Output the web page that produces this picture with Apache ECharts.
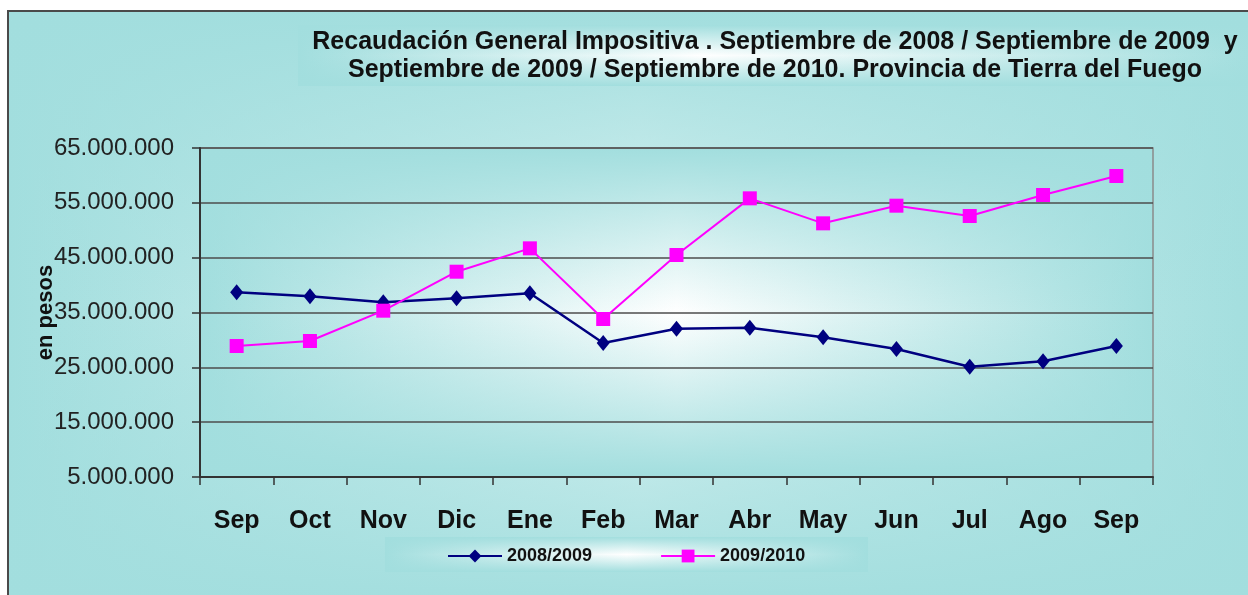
<!DOCTYPE html>
<html>
<head>
<meta charset="utf-8">
<script src="https://cdn.jsdelivr.net/npm/echarts@6/dist/echarts.min.js"></script>
<style>
  html, body { margin: 0; padding: 0; background: #fff; }
  #chart { width: 1248px; height: 595px; }
</style>
</head>
<body>
<div id="chart"></div>
<script>
// meses (sep a sep)
var meses = ['Sep', 'Oct', 'Nov', 'Dic', 'Ene', 'Feb', 'Mar', 'Abr', 'May', 'Jun', 'Jul', 'Ago', 'Sep']
var serie0809 = [38680000, 37950000, 36860000, 37590000, 38500000, 29440000, 32050000, 32230000, 30470000, 28340000, 25120000, 26100000, 28890000]
var serie0910 = [28890000, 29800000, 35330000, 42440000, 46700000, 33810000, 45490000, 55820000, 51260000, 54480000, 52600000, 56430000, 59890000]
var nombres = ['2008/2009', '2009/2010']

var cian = '#a2dede'
var fuente = '"Liberation Sans", Arial, sans-serif'

function puntos (v) {
  return String(v).replace(/\B(?=(\d{3})+(?!\d))/g, '.')
}

// gradiente horizontal cian-blanco-cian
function gradH (centro, x) {
  return {
    type: 'linear', x: 0, y: 0, x2: 1, y2: 0,
    colorStops: [
      { offset: 0, color: cian },
      { offset: x, color: centro },
      { offset: 1, color: cian }
    ]
  }
}
// capa vertical para cerrar arriba y abajo
function gradV (y) {
  return {
    type: 'linear', x: 0, y: 0, x2: 0, y2: 1,
    colorStops: [
      { offset: 0, color: 'rgba(162,222,222,1)' },
      { offset: y, color: 'rgba(162,222,222,0)' },
      { offset: 1, color: 'rgba(162,222,222,1)' }
    ]
  }
}

function caja (x, y, w, h, centro, cx, cy, z) {
  return [
    { type: 'rect', z: z, silent: true, shape: { x: x, y: y, width: w, height: h }, style: { fill: gradH(centro, cx) } },
    { type: 'rect', z: z + 1, silent: true, shape: { x: x, y: y, width: w, height: h }, style: { fill: gradV(cy) } }
  ]
}

var fondo = [].concat(
  // marco general
  caja(8, 11, 1260, 600, '#dff4f4', 0.5, 0.5, -20),
  [{ type: 'rect', z: -17, silent: true, shape: { x: 8, y: 11, width: 1260, height: 600 }, style: { fill: 'none', stroke: '#4a4a4a', lineWidth: 2 } }],
  // caja del titulo
  caja(298, 25, 960, 61, '#ffffff', 0.42, 0.5, -15),
  // area de grafico
  caja(200, 148, 953, 329, '#ffffff', 0.5, 0.5, -12),
  // caja de la leyenda
  caja(385, 537, 483, 35, '#ffffff', 0.5, 0.5, -15)
)

var chart = echarts.init(document.getElementById('chart'))
var option = {
  animation: false,
  title: {
    text: 'Recaudación General Impositiva . Septiembre de 2008 / Septiembre de 2009  y\nSeptiembre de 2009 / Septiembre de 2010. Provincia de Tierra del Fuego',
    left: 775,
    top: 28,
    padding: 0,
    textAlign: 'center',
    textStyle: {
      fontFamily: fuente,
      fontSize: 25,
      fontWeight: 'bold',
      color: '#111',
      lineHeight: 28
    }
  },
  graphic: fondo,
  legend: {
    data: nombres,
    left: 447,
    top: 547,
    padding: 0,
    itemWidth: 54,
    itemHeight: 16,
    itemGap: 68,
    textStyle: {
      fontFamily: fuente,
      fontSize: 18,
      fontWeight: 'bold',
      color: '#111'
    },
    selectedMode: false
  },
  grid: {
    left: 200,
    right: 95,
    top: 148,
    bottom: 118,
    show: true,
    backgroundColor: 'transparent',
    borderColor: '#8a8a8a',
    borderWidth: 1.5
  },
  xAxis: {
    type: 'category',
    data: meses,
    boundaryGap: true,
    axisLine: { lineStyle: { color: '#333', width: 2 } },
    axisTick: { show: true, length: 8, lineStyle: { color: '#333', width: 1.5 } },
    axisLabel: {
      margin: 32,
      fontFamily: fuente,
      fontSize: 25,
      fontWeight: 'bold',
      color: '#111'
    }
  },
  yAxis: {
    type: 'value',
    min: 5000000,
    max: 65000000,
    interval: 10000000,
    name: 'en pesos',
    nameLocation: 'middle',
    nameRotate: 90,
    nameGap: 143,
    nameMoveOverlap: false,
    nameTextStyle: {
      fontFamily: fuente,
      fontSize: 22,
      fontWeight: 'bold',
      color: '#111'
    },
    axisLine: { show: true, lineStyle: { color: '#333', width: 2 } },
    axisTick: { show: true, length: 8, lineStyle: { color: '#333', width: 1.5 } },
    splitLine: { lineStyle: { color: '#4d4d4d', width: 1.5 } },
    axisLabel: {
      margin: 26,
      fontFamily: fuente,
      fontSize: 24,
      color: '#222',
      formatter: puntos
    }
  },
  series: [
    {
      name: nombres[0],
      type: 'line',
      data: serie0809,
      symbol: 'diamond',
      symbolSize: [13, 16],
      lineStyle: { color: '#000080', width: 2.5 },
      itemStyle: { color: '#000080' }
    },
    {
      name: nombres[1],
      type: 'line',
      data: serie0910,
      symbol: 'rect',
      symbolSize: 14,
      lineStyle: { color: '#ff00ff', width: 2 },
      itemStyle: { color: '#ff00ff' }
    }
  ]
}
chart.setOption(option)
</script>
</body>
</html>
